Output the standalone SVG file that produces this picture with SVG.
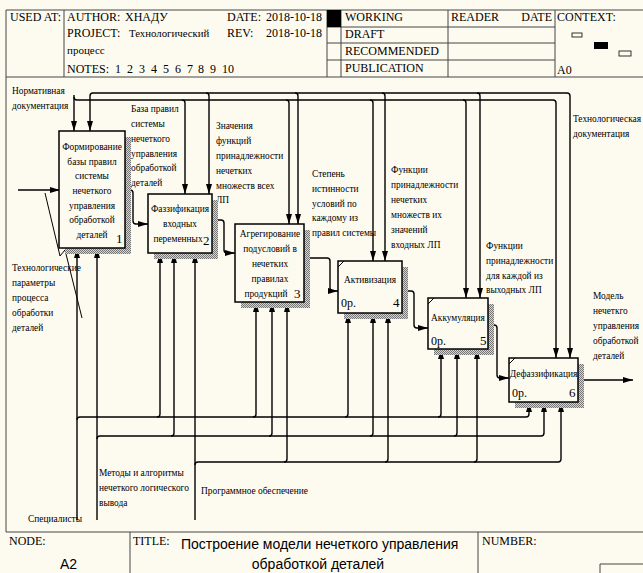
<svg xmlns="http://www.w3.org/2000/svg" width="643" height="573" viewBox="0 0 643 573">
<defs>
<pattern id="hatch" width="2" height="2" patternUnits="userSpaceOnUse">
<rect width="2" height="2" fill="#d4d4d4"/>
<rect width="1" height="1" fill="#777"/>
<rect x="1" y="1" width="1" height="1" fill="#777"/>
</pattern>
<marker id="ah" viewBox="0 0 10 6" refX="10" refY="3" markerWidth="10" markerHeight="6" markerUnits="userSpaceOnUse" orient="auto">
<path d="M0,0 L10,3 L0,6 Z" fill="#000"/>
</marker>
<style>
.t{font-family:"Liberation Serif","Times New Roman",serif;font-size:9.4px;fill:#000}
.h{font-family:"Liberation Serif","Times New Roman",serif;font-size:12px;fill:#000}
.s{font-family:"Liberation Sans",Arial,sans-serif;font-size:14px;fill:#000}
.n{font-family:"Liberation Serif","Times New Roman",serif;font-size:13px;fill:#000}
.fr{fill:none;stroke:#444;stroke-width:1}
.box{fill:#fdfbf0;stroke:#000;stroke-width:1.5}
.sh{fill:url(#hatch)}
.a{fill:none;stroke:#000;stroke-width:1.4;marker-end:url(#ah)}
.tk{fill:none;stroke:#000;stroke-width:1}
.mid{text-anchor:middle}
</style>
</defs>
<rect width="643" height="573" fill="#fdfbf0"/>

<g id="header">
<path class="fr" d="M6,10 H643 M6,10 V532 M6,77 H643 M64,10 V77 M327,10 V77 M341,10 V77 M448,10 V77 M555,10 V77 M327,27 H555 M327,43 H555 M327,60 H555"/>
<rect x="327" y="10" width="14" height="17" fill="#000"/>
<text class="h" x="10" y="21">USED AT:</text>
<text class="h" x="67" y="21">AUTHOR:</text>
<text class="h" x="125" y="21">ХНАДУ</text>
<text class="h" x="227" y="21">DATE:</text>
<text class="h" x="266" y="21">2018-10-18</text>
<text class="h" x="67" y="37">PROJECT:</text>
<text class="h" x="129" y="37" style="font-size:10.8px">Технологический</text>
<text class="h" x="227" y="37">REV:</text>
<text class="h" x="266" y="37">2018-10-18</text>
<text class="h" x="67" y="54" style="font-size:11px">процесс</text>
<text class="h" y="73"><tspan x="67">NOTES:</tspan><tspan x="115">1</tspan><tspan x="127">2</tspan><tspan x="139">3</tspan><tspan x="151">4</tspan><tspan x="163">5</tspan><tspan x="175">6</tspan><tspan x="187">7</tspan><tspan x="198">8</tspan><tspan x="210">9</tspan><tspan x="222">10</tspan></text>
<text class="h" x="345" y="21">WORKING</text>
<text class="h" x="345" y="38">DRAFT</text>
<text class="h" x="345" y="55">RECOMMENDED</text>
<text class="h" x="345" y="72">PUBLICATION</text>
<text class="h" x="451" y="21">READER</text>
<text class="h" x="552" y="21" text-anchor="end">DATE</text>
<text class="h" x="557" y="21">CONTEXT:</text>
<rect x="572" y="33" width="10" height="4" fill="none" stroke="#000" stroke-width="0.8"/>
<rect x="594" y="42" width="14" height="7" fill="#000"/>
<rect x="619" y="51" width="12" height="5" fill="none" stroke="#000" stroke-width="0.8"/>
<text class="h" x="557" y="74">A0</text>
</g>

<g id="footer">
<path class="fr" d="M6,532 H643 M130,532 V573 M478,532 V573 M600,564 H643 M600,564 V573"/>
<text class="h" x="9" y="545">NODE:</text>
<text class="s" x="60" y="569">A2</text>
<text class="h" x="133" y="545">TITLE:</text>
<text class="s" x="181" y="549">Построение модели нечеткого управления</text>
<text class="s" x="318" y="569" text-anchor="middle">обработкой  деталей</text>
<text class="h" x="482" y="545">NUMBER:</text>
</g>

<g id="connectors">
<path class="a" d="M74,95 V131"/>
<path class="a" d="M74,97 Q74,100 77,100 H553 Q556,100 556,103 V358"/>
<path class="a" d="M182,100 Q185,100 185,103 V194"/>
<path class="a" d="M286,100 Q289,100 289,103 V224"/>
<path class="a" d="M370,100 Q373,100 373,103 V261"/>
<path class="a" d="M463,100 Q466,100 466,103 V298"/>
<path class="a" d="M93,93 H567 Q570,93 570,96 V358"/>
<path class="a" d="M93,93 Q90,93 90,96 V131"/>
<path class="a" d="M206,93 Q209,93 209,96 V194"/>
<path class="a" d="M295,93 Q298,93 298,96 V224"/>
<path class="a" d="M382,93 Q385,93 385,96 V261"/>
<path class="a" d="M477,93 Q480,93 480,96 V298"/>
<path class="a" d="M18,190 H60"/>
<path class="a" d="M125,190 H130 Q133,190 133,193 V221 Q133,224 136,224 H148"/>
<path class="a" d="M212,220 H221 Q224,220 224,223 V250 Q224,253 227,253 H235"/>
<path class="a" d="M304,258 H327 Q330,258 330,261 V288 Q330,291 333,291 H338"/>
<path class="a" d="M402,291 H411 Q414,291 414,294 V325 Q414,328 417,328 H428"/>
<path class="a" d="M488,325 H494 Q497,325 497,328 V375 Q497,378 500,378 H509"/>
<path class="a" d="M578,380 H633"/>
<path class="a" d="M77,520 V248"/>
<path class="a" d="M77,420 Q77,417 80,417 H526 Q529,417 529,414 V402"/>
<path class="a" d="M157,417 Q160,417 160,414 V253"/>
<path class="a" d="M253,417 Q256,417 256,414 V302"/>
<path class="a" d="M345,417 Q348,417 348,414 V313"/>
<path class="a" d="M438,417 Q441,417 441,414 V349"/>
<path class="a" d="M97,520 V248"/>
<path class="a" d="M97,439 Q97,436 100,436 H541 Q544,436 544,433 V402"/>
<path class="a" d="M171,436 Q174,436 174,433 V253"/>
<path class="a" d="M269,436 Q272,436 272,433 V302"/>
<path class="a" d="M370,436 Q373,436 373,433 V313"/>
<path class="a" d="M454,436 Q457,436 457,433 V349"/>
<path class="a" d="M195,520 V253"/>
<path class="a" d="M195,465 Q195,462 198,462 H558 Q561,462 561,459 V402"/>
<path class="a" d="M284,462 Q287,462 287,459 V302"/>
<path class="a" d="M385,462 Q388,462 388,459 V313"/>
<path class="a" d="M474,462 Q477,462 477,459 V349"/>
<polyline class="tk" points="45,193 60,256 65,250 82,318" stroke-width="0.8"/>
</g>

<g id="labels">
<text class="t" x="12" y="94">Нормативная</text>
<text class="t" x="12" y="109">документация</text>
<text class="t" x="12" y="271">Технологические</text>
<text class="t" x="12" y="286">параметры</text>
<text class="t" x="12" y="301">процесса</text>
<text class="t" x="12" y="316">обработки</text>
<text class="t" x="12" y="331">деталей</text>
<text class="t" x="131" y="112">База правил</text>
<text class="t" x="131" y="127">системы</text>
<text class="t" x="131" y="142">нечеткого</text>
<text class="t" x="131" y="157">управления</text>
<text class="t" x="131" y="171">обработкой</text>
<text class="t" x="131" y="186">деталей</text>
<text class="t" x="216" y="129">Значения</text>
<text class="t" x="216" y="144">функций</text>
<text class="t" x="216" y="159">принадлежности</text>
<text class="t" x="216" y="174">нечетких</text>
<text class="t" x="216" y="189">множеств всех</text>
<text class="t" x="216" y="203">ЛП</text>
<text class="t" x="312" y="177">Степень</text>
<text class="t" x="312" y="192">истинности</text>
<text class="t" x="312" y="207">условий по</text>
<text class="t" x="312" y="221">каждому из</text>
<text class="t" x="312" y="236">правил системы</text>
<text class="t" x="391" y="173">Функции</text>
<text class="t" x="391" y="188">принадлежности</text>
<text class="t" x="391" y="203">нечетких</text>
<text class="t" x="391" y="218">множеств их</text>
<text class="t" x="391" y="233">значений</text>
<text class="t" x="391" y="248">входных ЛП</text>
<text class="t" x="486" y="249">Функции</text>
<text class="t" x="486" y="264">принадлежности</text>
<text class="t" x="486" y="279">для каждой из</text>
<text class="t" x="486" y="293">выходных ЛП</text>
<text class="t" x="573" y="122">Технологическая</text>
<text class="t" x="573" y="137">документация</text>
<text class="t" x="593" y="299">Модель</text>
<text class="t" x="593" y="314">нечеткго</text>
<text class="t" x="593" y="329">управления</text>
<text class="t" x="593" y="344">обработкой</text>
<text class="t" x="593" y="359">деталей</text>
<text class="t" x="99" y="476">Методы и алгоритмы</text>
<text class="t" x="99" y="491">нечеткого логического</text>
<text class="t" x="99" y="506">вывода</text>
<text class="t" x="201" y="494">Программное обеспечение</text>
<text class="t" x="28" y="522">Специалисты</text>
</g>

<g id="box1">
<path class="sh" d="M125,137 H131 V254 H65 V248 H125 Z"/>
<rect class="box" x="59" y="131" width="66" height="117"/>
<text class="t mid" x="92" y="150">Формирование</text>
<text class="t mid" x="92" y="165">базы правил</text>
<text class="t mid" x="92" y="179">системы</text>
<text class="t mid" x="92" y="194">нечеткого</text>
<text class="t mid" x="92" y="209">управления</text>
<text class="t mid" x="92" y="223">обработкой</text>
<text class="t mid" x="92" y="238">деталей</text>
<text class="n" x="116" y="243">1</text>
</g>

<g id="box2">
<path class="sh" d="M212,200 H218 V259 H154 V253 H212 Z"/>
<rect class="box" x="148" y="194" width="64" height="59"/>
<text class="t mid" x="180" y="212">Фаззификация</text>
<text class="t mid" x="180" y="227">входных</text>
<text class="t mid" x="178" y="242">переменных</text>
<text class="n" x="203" y="245">2</text>
</g>

<g id="box3">
<path class="sh" d="M304,230 H310 V308 H241 V302 H304 Z"/>
<rect class="box" x="235" y="224" width="69" height="78"/>
<text class="t mid" x="270" y="237">Агрегирование</text>
<text class="t mid" x="270" y="252">подусловий в</text>
<text class="t mid" x="270" y="267">нечетких</text>
<text class="t mid" x="270" y="282">правилах</text>
<text class="t mid" x="266" y="297">продукций</text>
<text class="n" x="294" y="298">3</text>
</g>

<g id="box4">
<path class="sh" d="M402,267 H408 V319 H344 V313 H402 Z"/>
<rect class="box" x="338" y="261" width="64" height="52"/>
<line class="tk" x1="338" y1="267" x2="344" y2="261"/>
<text class="t mid" x="370" y="283">Активизация</text>
<text class="h" x="341" y="307">0р.</text>
<text class="n" x="393" y="307">4</text>
</g>

<g id="box5">
<path class="sh" d="M488,304 H494 V355 H434 V349 H488 Z"/>
<rect class="box" x="428" y="298" width="60" height="51"/>
<line class="tk" x1="428" y1="304" x2="434" y2="298"/>
<text class="t mid" x="458" y="321">Аккумуляция</text>
<text class="h" x="431" y="345">0р.</text>
<text class="n" x="480" y="345">5</text>
</g>

<g id="box6">
<path class="sh" d="M578,364 H584 V408 H515 V402 H578 Z"/>
<rect class="box" x="509" y="358" width="69" height="44"/>
<line class="tk" x1="509" y1="364" x2="515" y2="358"/>
<text class="t mid" x="543.5" y="377">Дефаззификация</text>
<text class="h" x="512" y="397">0р.</text>
<text class="n" x="569" y="397">6</text>
</g>
</svg>
